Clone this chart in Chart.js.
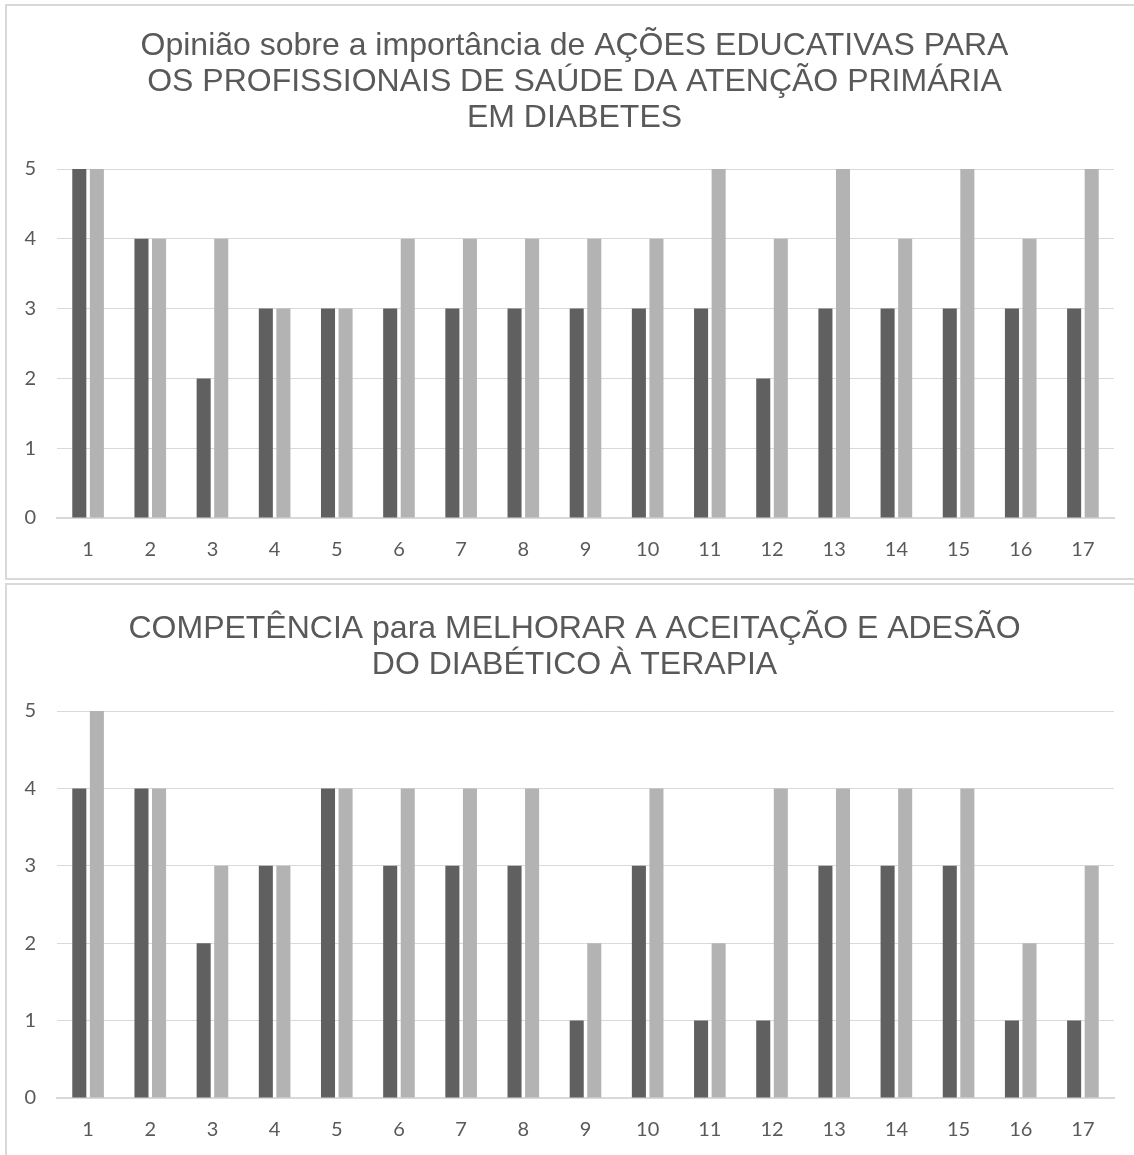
<!DOCTYPE html>
<html>
<head>
<meta charset="utf-8">
<script src="https://cdn.jsdelivr.net/npm/chart.js@4/dist/chart.umd.min.js"></script>
<style>
  html, body { margin: 0; padding: 0; background: #fff; overflow: hidden; }
  .box { position: absolute; left: 5px; width: 1160px; border: 2px solid #d9d9d9; background: #fff; }
  #box1 { top: 4px; height: 572px; }
  #box2 { top: 583px; height: 600px; }
  .wrap { position: absolute; left: 0; top: 0; width: 1127px; }
  #wrap1 { height: 572px; }
  #wrap2 { height: 570px; }
</style>
</head>
<body>
<div class="box" id="box1"><div class="wrap" id="wrap1"><canvas id="chart1"></canvas></div></div>
<div class="box" id="box2"><div class="wrap" id="wrap2"><canvas id="chart2"></canvas></div></div>
<script>
var labels = ['1','2','3','4','5','6','7','8','9','10','11','12','13','14','15','16','17'];

// first chart: importance of educational actions
var acoesA = [5,4,2,3,3,3,3,3,3,3,3,2,3,3,3,3,3];
var acoesB = [5,4,4,3,3,4,4,4,4,4,5,4,5,4,5,4,5];

// second chart: competence to improve therapy adherence
var compA = [4,4,2,3,4,3,3,3,1,3,1,1,3,3,3,1,1];
var compB = [5,4,3,3,4,4,4,4,2,4,2,4,4,4,4,2,3];

var titulo1 = ['Opinião sobre a importância de AÇÕES EDUCATIVAS PARA',
               'OS PROFISSIONAIS DE SAÚDE DA ATENÇÃO PRIMÁRIA',
               'EM DIABETES'];
var titulo2 = ['COMPETÊNCIA para MELHORAR A ACEITAÇÃO E ADESÃO',
               'DO DIABÉTICO À TERAPIA'];

var escuro = '#606060';
var claro = '#b3b3b3';
var texto = '#595959';
var grade = '#d9d9d9';

// nudge the title box so its text is centred over the whole frame
var titleShift = {
    id: 'titleShift',
    afterLayout: function(chart) {
        if (chart.titleBlock) chart.titleBlock.left += 28;
    }
};

function makeChart(id, title, serieA, serieB, titleTop, titleBottom, xHeight) {
    var ctx = document.getElementById(id).getContext('2d');
    return new Chart(ctx, {
        type: 'bar',
        data: {
            labels: labels,
            datasets: [
                { data: serieA, backgroundColor: escuro, categoryPercentage: 0.565, barPercentage: 0.8 },
                { data: serieB, backgroundColor: claro, categoryPercentage: 0.565, barPercentage: 0.8 }
            ]
        },
        plugins: [titleShift],
        options: {
            responsive: true,
            maintainAspectRatio: false,
            animation: false,
            layout: { padding: { left: 0, right: 20, top: 0, bottom: 0 } },
            plugins: {
                legend: { display: false },
                tooltip: { enabled: false },
                title: {
                    display: true,
                    text: title,
                    color: texto,
                    font: { family: '"Liberation Sans", Arial, sans-serif', size: 32, weight: 'normal', lineHeight: 1.125 },
                    padding: { top: titleTop, bottom: titleBottom }
                }
            },
            scales: {
                x: {
                    grid: { display: false, drawTicks: false },
                    border: { display: true, color: grade, width: 2 },
                    ticks: { color: texto, font: { family: 'Lato, sans-serif', size: 20 }, padding: 20 },
                    afterFit: function(scale) { scale.height = xHeight; }
                },
                y: {
                    min: 0,
                    max: 5,
                    grid: { color: grade, lineWidth: 1, drawTicks: false },
                    border: { display: false },
                    ticks: { stepSize: 1, color: texto, font: { family: 'Lato, sans-serif', size: 20 }, padding: 21 },
                    afterFit: function(scale) { scale.width = 50; }
                }
            }
        }
    });
}

makeChart('chart1', titulo1, acoesA, acoesB, 22, 33, 60);
makeChart('chart2', titulo2, compA, compB, 26, 28, 57);
</script>
</body>
</html>
